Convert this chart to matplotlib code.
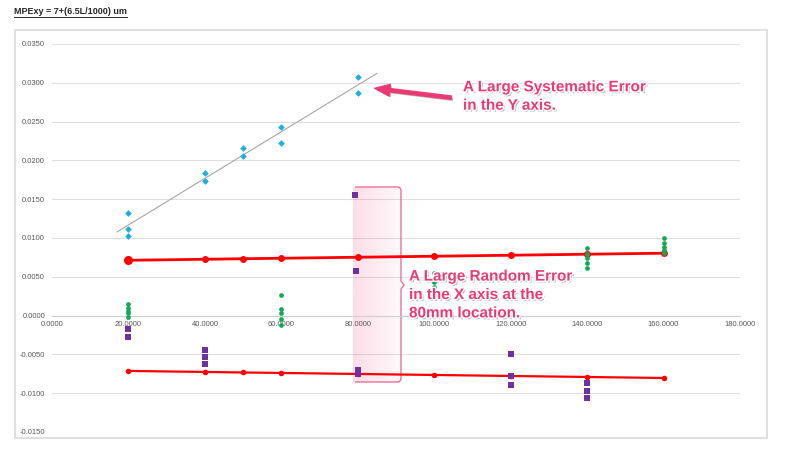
import numpy as np
import matplotlib
matplotlib.use("Agg")
import matplotlib.pyplot as plt
import matplotlib.patheffects as pe
from matplotlib.patches import Rectangle, PathPatch, FancyArrowPatch
from matplotlib.path import Path
from matplotlib.lines import Line2D
from matplotlib.transforms import Affine2D
from matplotlib.colors import to_rgb

plt.rcParams['font.family'] = ['Liberation Sans', 'DejaVu Sans']

# MPE limit lines (mm)
mpe_x = [20, 40, 50, 60, 80, 100, 120, 140, 160]
mpe_upper = [0.00713, 0.00726, 0.00733, 0.00739, 0.00752, 0.00765, 0.00778, 0.00791, 0.00804]
mpe_lower = [-0.00713, -0.00726, -0.00733, -0.00739, -0.00752, -0.00765, -0.00778, -0.00791, -0.00804]

# systematic error points (blue)
sys_x = [20, 20, 20, 40, 40, 50, 50, 60, 60, 80, 80]
sys_y = [0.0132, 0.0112, 0.0102, 0.0184, 0.0174, 0.0216, 0.0206, 0.0243, 0.0223, 0.0307, 0.0287]

# green points
grn_x = [20, 20, 20, 20, 20, 60, 60, 60, 60, 60, 100, 100, 100, 100,
         140, 140, 140, 140, 140, 160, 160, 160, 160, 160]
grn_y = [0.0015, 0.0010, 0.0006, 0.0003, -0.0002, 0.0027, 0.0009, 0.0003, -0.0004, -0.0012,
         0.0055, 0.0049, 0.0043, 0.0037,
         0.0087, 0.0080, 0.0074, 0.0068, 0.0061, 0.0100, 0.0094, 0.0089, 0.0085, 0.0081]

# purple points (random error)
prp_x = [20, 20, 40, 40, 40, 79.2, 79.6, 80, 80, 120, 120, 120, 140, 140, 140]
prp_y = [-0.0017, -0.0027, -0.0044, -0.0053, -0.0063, 0.0156, 0.0058, -0.0070, -0.0075,
         -0.0049, -0.0078, -0.0089, -0.0087, -0.0097, -0.0106]

W, H = 800, 470
PINK = '#ea3a73'

fig = plt.figure(figsize=(W / 100, H / 100), dpi=100)
ax = fig.add_axes([52 / W, 1 - 432 / H, 688 / W, 388 / H])

# pixel coords from top-left, for the callout shapes
pxt = Affine2D().scale(1, -1).translate(0, H)

# random error callout box (gradient shading + bracket)
grad = np.zeros((1, 64, 4))
grad[..., :3] = to_rgb(PINK)
grad[..., 3] = np.linspace(0.17, 0.03, 64)
ax.imshow(grad, extent=(353, 401, 382, 187), transform=pxt, aspect='auto',
          interpolation='bilinear', zorder=1.5)
verts = [(355, 187), (397, 187), (401, 187), (401, 191), (401, 281), (404, 285), (401, 289),
         (401, 378), (401, 382), (397, 382), (355, 382)]
codes = [Path.MOVETO, Path.LINETO, Path.CURVE3, Path.CURVE3, Path.LINETO, Path.LINETO,
         Path.LINETO, Path.LINETO, Path.CURVE3, Path.CURVE3, Path.LINETO]
ax.add_patch(PathPatch(Path(verts, codes), transform=pxt, facecolor='none',
                       edgecolor='#ef6f98', lw=1, zorder=1.6))

# trend line through systematic points
k, b = np.polyfit(sys_x, sys_y, 1)
tx = np.array([17, 85])
ax.plot(tx, k * tx + b, color='#a6a6a6', lw=0.8, zorder=2)

ax.plot(mpe_x, mpe_upper, color='#ff0000', lw=2, marker='o', markersize=5, mew=0, zorder=3)
ax.plot(mpe_x[:1], mpe_upper[:1], color='#ff0000', marker='o', markersize=6.5, mew=0, zorder=3)
ax.plot(mpe_x, mpe_lower, color='#ff0000', lw=1.6, marker='o', markersize=4, mew=0, zorder=3)

ax.plot(sys_x, sys_y, linestyle='none', marker='D', markersize=3.4, mew=0, color='#1eaee6', zorder=4)
ax.plot(grn_x, grn_y, linestyle='none', marker='o', markersize=3.4, mew=0, color='#12a956', zorder=4)
ax.plot(prp_x, prp_y, linestyle='none', marker='s', markersize=3.8, mew=0, color='#7030a0', zorder=4)

ax.set_xlim(0, 180)
ax.set_ylim(-0.015, 0.035)
ax.set_xticks(np.arange(0, 181, 20))
ax.set_yticks(np.arange(-0.015, 0.0351, 0.005))
ax.xaxis.set_major_formatter(plt.FormatStrFormatter('%.4f'))
ax.yaxis.set_major_formatter(plt.FormatStrFormatter('%.4f'))
ax.tick_params(axis='both', length=0, labelsize=5.5, labelcolor='#595959')
ax.tick_params(axis='y', pad=5)
ax.tick_params(axis='x', pad=4)
for s in ['top', 'right', 'left']:
    ax.spines[s].set_visible(False)
ax.spines['bottom'].set_position(('data', 0))
ax.spines['bottom'].set_color('#d0d0d0')
ax.spines['bottom'].set_linewidth(0.8)
ax.yaxis.grid(True, color='#e0e0e0', lw=0.8)
ax.set_axisbelow(True)

fx = [pe.SimplePatchShadow(offset=(1.3, -1.3), shadow_rgbFace='#444444', alpha=0.4),
      pe.Stroke(linewidth=2, foreground='white'), pe.Normal()]

ax.text(463, 96.5, 'A Large Systematic Error\nin the Y axis.', transform=pxt,
        fontsize=11, fontweight='bold', color=PINK, va='center', ha='left',
        linespacing=1.4, path_effects=fx, zorder=6)
arr = FancyArrowPatch((454, 98), (372, 88), transform=pxt,
                      arrowstyle='simple,head_length=0.9,head_width=0.7,tail_width=0.2',
                      mutation_scale=12, color=PINK, zorder=6,
                      path_effects=[pe.SimplePatchShadow(offset=(1.2, -1.2), alpha=0.35), pe.Normal()])
ax.add_patch(arr)

ax.text(409, 295, 'A Large Random Error\nin the X axis at the\n80mm location.', transform=pxt,
        fontsize=11, fontweight='bold', color=PINK, va='center', ha='left',
        linespacing=1.4, path_effects=fx, zorder=6)

# chart frame
fig.add_artist(Rectangle((15 / W, 1 - 438 / H), 752 / W, 408 / H, transform=fig.transFigure,
                         fill=False, edgecolor='#d9d9d9', lw=1.2))

title = fig.text(14 / W, 1 - 12 / H, 'MPExy = 7+(6.5L/1000) um', fontsize=6.5,
                 fontweight='bold', color='#262626', va='center', ha='left')
fig.canvas.draw()
bb = title.get_window_extent()
fig.add_artist(Line2D([bb.x0, bb.x1], [bb.y0 - 0.5, bb.y0 - 0.5], transform=None,
                      color='#262626', lw=0.7))

fig.savefig('out.png', dpi=100)
